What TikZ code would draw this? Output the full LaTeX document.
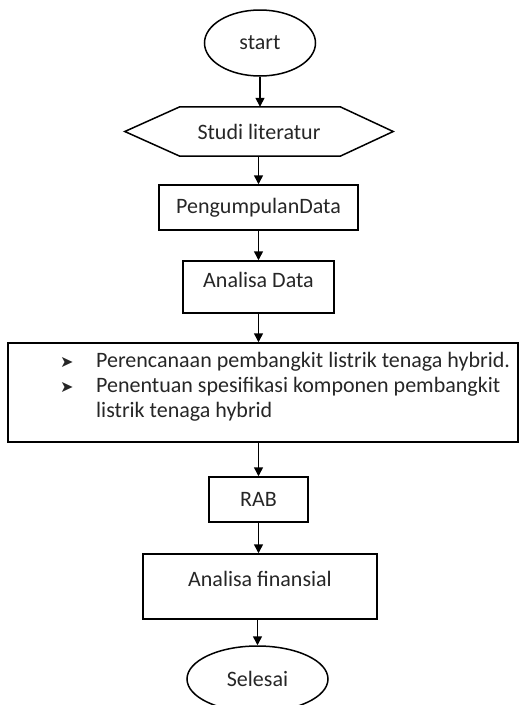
\documentclass[tikz,border=0pt]{standalone}
\usepackage{fontspec}
\setmainfont{Carlito}
\newfontfamily\dejavu{DejaVu Sans}
\usetikzlibrary{shapes.geometric,arrows.meta,calc}
\begin{document}
\begin{tikzpicture}[x=1pt,y=1pt,
  every node/.style={font=\fontsize{22}{26}\selectfont, text=black!85},
  box/.style={draw, line width=1.5pt, rectangle, inner sep=0pt},
  oval/.style={draw, line width=1.5pt, ellipse, inner sep=0pt},
  txt/.style={inner sep=0pt},
  flow/.style={line width=1.5pt, -{Triangle[length=9pt,width=9pt]}}
]
\useasboundingbox (0,0) rectangle (522,-705);

\node[oval, minimum width=111pt, minimum height=66pt] (start) at (260,-43) {start};

\node[txt, minimum width=268pt, minimum height=49pt] (studi) at (259,-131.5) {Studi literatur};
\draw[line width=1.5pt] (studi.west) -- ($(studi.north west)+(55,0)$) -- ($(studi.north east)+(-53,0)$)
  -- (studi.east) -- ($(studi.south east)+(-53,0)$) -- ($(studi.south west)+(55,0)$) -- cycle;

\node[box, minimum width=199pt, minimum height=45pt] (peng) at (258.5,-207.5) {PengumpulanData};

\node[box, minimum width=151pt, minimum height=52pt] (anal) at (258.5,-287) {};
\node[txt] (analt) at ($(anal.north)+(0,-20)$) {Analisa Data};

\node[box, minimum width=510pt, minimum height=99pt] (big) at (263,-392.5) {};
\node[txt, anchor=west] (b1) at (60,-362) {\dejavu\fontsize{16}{18}\selectfont ➤};
\node[txt, anchor=west] (l1) at (96,-362) {Perencanaan pembangkit listrik tenaga hybrid.};
\node[txt, anchor=west] (b2) at (60,-387) {\dejavu\fontsize{16}{18}\selectfont ➤};
\node[txt, anchor=west] (l2) at (96,-387) {Penentuan spesifikasi komponen pembangkit};
\node[txt, anchor=west] (l3) at (96,-412) {listrik tenaga hybrid};

\node[box, minimum width=99pt, minimum height=45pt] (rab) at (258.5,-499.5) {RAB};

\node[box, minimum width=234pt, minimum height=65pt] (fin) at (260,-586.5) {};
\node[txt] (fint) at ($(fin.north)+(0,-26)$) {Analisa finansial};

\node[oval, minimum width=141pt, minimum height=66pt] (sel) at (257.5,-679) {Selesai};

\draw[flow] (start.south) -- (start.south |- studi.north);
\draw[flow] (studi.south -| peng.north) -- (peng.north);
\draw[flow] (peng.south) -- (anal.north);
\draw[flow] (anal.south) -- (anal.south |- big.north);
\draw[flow] (big.south -| rab.north) -- (rab.north);
\draw[flow] (rab.south) -- (rab.south |- fin.north);
\draw[flow] (fin.south -| sel.north) -- (sel.north);
\end{tikzpicture}
\end{document}
